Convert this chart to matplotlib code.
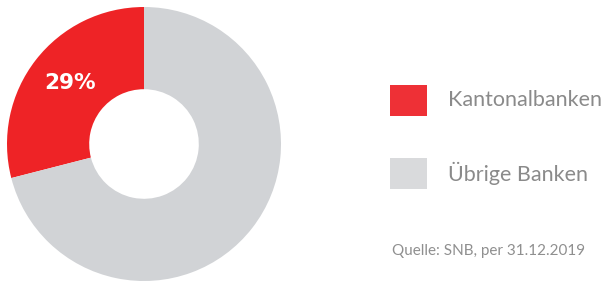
import matplotlib
matplotlib.use("Agg")
import matplotlib.pyplot as plt
from matplotlib.patches import Rectangle

categories = ["Kantonalbanken", "Übrige Banken"]
values = [29, 71]
pie_colors = ["#EE2326", "#D1D3D6"]
legend_colors = ["#EE3036", "#D9DADC"]
label_text = "29%"
source = "Quelle: SNB, per 31.12.2019"

W, H = 609, 281
fig = plt.figure(figsize=(W / 100, H / 100), dpi=100)

cx, cy, r = 144, 144, 137
ax = fig.add_axes([(cx - r) / W, (H - cy - r) / H, 2 * r / W, 2 * r / H])
ax.pie(values, colors=pie_colors, startangle=90, counterclock=True,
       radius=1, wedgeprops=dict(width=0.6, linewidth=0))
ax.set_xlim(-1, 1)
ax.set_ylim(-1, 1)
ax.set_aspect("equal")
ax.axis("off")

# overlay axes in pixel coordinates for text and legend
ov = fig.add_axes([0, 0, 1, 1])
ov.set_xlim(0, W)
ov.set_ylim(H, 0)
ov.axis("off")
ov.patch.set_alpha(0)

ov.text(70, 83, label_text, color="white", fontsize=15.5, fontweight="bold",
        family="DejaVu Sans", ha="center", va="center")

ys = [100.5, 173.5]
for c, name, y in zip(legend_colors, categories, ys):
    ov.add_patch(Rectangle((390, y - 15.5), 37, 31, facecolor=c, linewidth=0))
    ov.text(448, y, name, color="#8A8A8A", fontsize=15.5, family="Lato",
            ha="left", va="center")

ov.text(392, 251, source, color="#8F8F8F", fontsize=11, family="Lato",
        ha="left", va="center")

fig.savefig("out.png", dpi=100)
